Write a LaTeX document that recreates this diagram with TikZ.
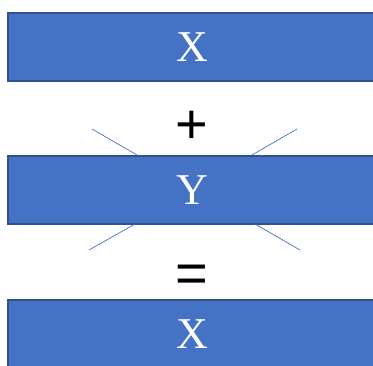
\documentclass[tikz,border=0pt]{standalone}
\usepackage{fontspec}
\setmainfont{Liberation Serif}
\newfontfamily\signfont{Liberation Sans}
\definecolor{boxfill}{HTML}{4472C4}
\definecolor{boxline}{HTML}{2F528F}

\begin{document}
\begin{tikzpicture}[x=1pt, y=-1pt,
    bar/.style={rectangle, draw=boxline, line width=1.5pt, fill=boxfill,
      minimum width=368pt, minimum height=68pt, inner sep=0pt,
      text=white, font=\fontsize{44}{44}\selectfont},
    sign/.style={font=\signfont\fontsize{56}{56}\selectfont, inner sep=0pt},
    ray/.style={draw=boxfill, line width=0.7pt}]
  \clip (0,0) rectangle (373,365);

  \node[bar] (top) at (192,47) {X};
  \node[bar] (mid) at (192,190) {Y};
  \node[bar] (bot) at (192,334) {X};

  \node[sign] (plus) at (192,127) {+};
  \node[sign] (equals) at (192,279) {=};

  % rays round the Y bar
  \coordinate (tl) at (92,129);
  \coordinate (tr) at (297,129);
  \coordinate (bl) at (89,250);
  \coordinate (br) at (300,250);
  \coordinate (tl') at (137,155);
  \coordinate (tr') at (252,155);
  \coordinate (bl') at (135,224);
  \coordinate (br') at (255,224);
  \draw[ray] (tl) -- (tl');
  \draw[ray] (tr) -- (tr');
  \draw[ray] (bl) -- (bl');
  \draw[ray] (br) -- (br');
\end{tikzpicture}
\end{document}
